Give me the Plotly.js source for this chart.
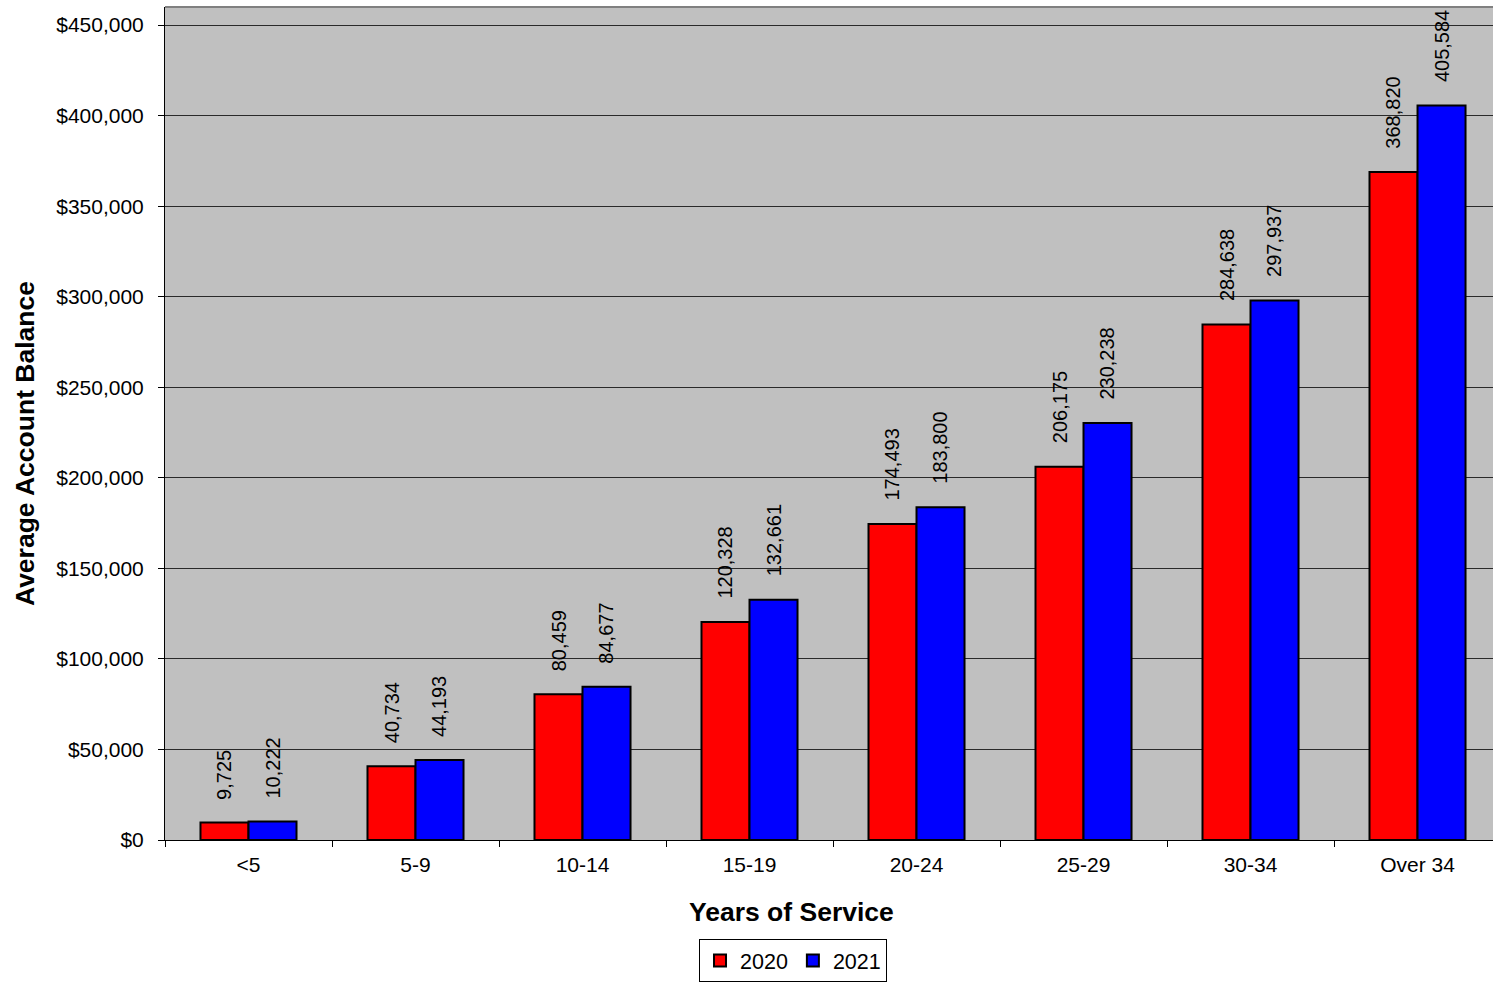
<!DOCTYPE html>
<html>
<head>
<meta charset="utf-8">
<script src="https://cdn.plot.ly/plotly-3.0.1.min.js"></script>
<style>html,body{margin:0;padding:0;background:#fff;}#chart{width:1493px;height:983px;}</style>
</head>
<body>
<div id="chart"></div>
<script>
const categories = ['<5', '5-9', '10-14', '15-19', '20-24', '25-29', '30-34', 'Over 34'];
const series2020 = [9725, 40734, 80459, 120328, 174493, 206175, 284638, 368820];
const series2021 = [10222, 44193, 84677, 132661, 183800, 230238, 297937, 405584];
const seriesNames = ['2020', '2021'];
const yTickValues = [0, 50000, 100000, 150000, 200000, 250000, 300000, 350000, 400000, 450000];
const xTitle = 'Years of Service';
const yTitle = 'Average Account Balance';

const FONT = 'Liberation Sans, Arial, sans-serif';
const fmt = v => v.toLocaleString('en-US');

const barLine = {color: '#000', width: 2};
const traces = [
  {type: 'bar', name: seriesNames[0], x: categories, y: series2020,
   marker: {color: '#FF0000', line: barLine}},
  {type: 'bar', name: seriesNames[1], x: categories, y: series2021,
   marker: {color: '#0000FF', line: barLine}}
];

const bargap = 0.425;
const half = (1 - bargap) / 4;
const annotations = [];
[series2020, series2021].forEach((s, k) => {
  s.forEach((v, i) => {
    annotations.push({
      x: i + (k === 0 ? -half : half), y: v, xref: 'x', yref: 'y',
      text: fmt(v), showarrow: false, textangle: -90,
      xanchor: 'center', yanchor: 'bottom', yshift: 21,
      font: {family: FONT, size: 20, color: '#000'}
    });
  });
});
annotations.push({
  xref: 'paper', yref: 'paper', x: -0.1054, y: 0.4754,
  xanchor: 'center', yanchor: 'middle', textangle: -90, showarrow: false,
  text: '<b>' + yTitle + '</b>', font: {family: FONT, size: 26.5, color: '#000'}
});
annotations.push({
  xref: 'paper', yref: 'paper', x: 0.4721, y: -0.0864,
  xanchor: 'center', yanchor: 'middle', showarrow: false,
  text: '<b>' + xTitle + '</b>', font: {family: FONT, size: 26.5, color: '#000'}
});

const layout = {
  width: 1493, height: 983,
  margin: {l: 165, r: 0, t: 7, b: 143},
  paper_bgcolor: '#FFFFFF',
  plot_bgcolor: '#C0C0C0',
  font: {family: FONT, size: 21, color: '#000'},
  barmode: 'group', bargap: bargap, bargroupgap: 0,
  showlegend: true,
  hovermode: false,
  xaxis: {
    type: 'category',
    range: [-0.5, 7.452],
    tickson: 'boundaries', ticks: 'outside', ticklen: 6, tickcolor: '#000',
    ticklabelstandoff: 6,
    showline: true, linecolor: '#000', linewidth: 1,
    showgrid: false, zeroline: false,
    tickfont: {family: FONT, size: 21},
    automargin: false
  },
  yaxis: {
    range: [0, 460000],
    tickmode: 'array',
    tickvals: yTickValues,
    ticktext: yTickValues.map(v => '$' + fmt(v)),
    ticks: 'outside', ticklen: 6, tickcolor: '#000',
    ticklabelstandoff: 10,
    showline: true, linecolor: '#000', linewidth: 1,
    showgrid: true, gridcolor: '#2a2a2a', gridwidth: 1,
    zeroline: false,
    tickfont: {family: FONT, size: 21},
    automargin: false
  },
  legend: {
    orientation: 'h', x: 0.4729, xanchor: 'center', y: -0.1188, yanchor: 'top',
    bgcolor: '#FFFFFF', bordercolor: '#000', borderwidth: 1,
    font: {family: FONT, size: 21.5}, itemwidth: 30
  },
  shapes: [
    {type: 'line', xref: 'paper', yref: 'paper', x0: 0, x1: 1, y0: 1, y1: 1,
     line: {color: '#808080', width: 2}}
  ],
  annotations: annotations
};

Plotly.newPlot('chart', traces, layout, {staticPlot: true, displayModeBar: false});
</script>
</body>
</html>
